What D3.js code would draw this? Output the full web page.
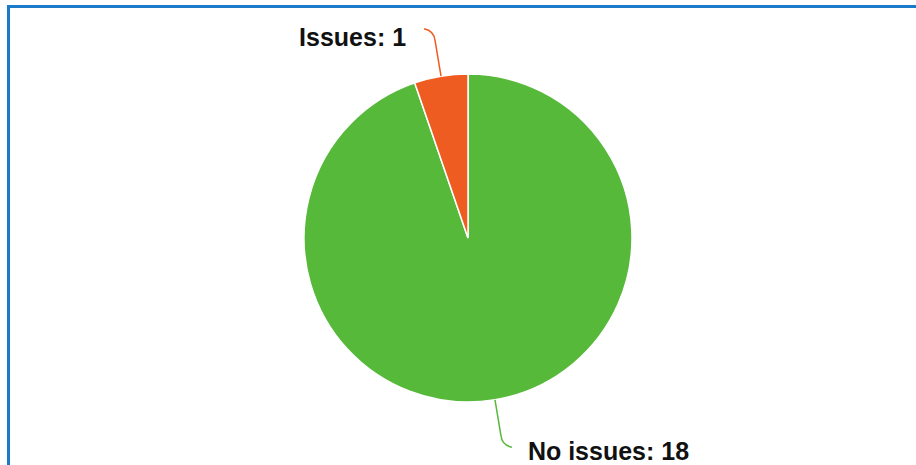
<!DOCTYPE html>
<html>
<head>
<meta charset="utf-8">
<script src="https://cdn.jsdelivr.net/npm/d3@7"></script>
<style>
  html, body { margin: 0; padding: 0; background: #fff; }
  svg { display: block; }
</style>
</head>
<body>
<div id="chart"></div>
<script>
// data
var labels = ["No issues", "Issues"];
var counts = [18, 1];
var colors = ["#57b93a", "#ef5c22"];

var width = 916, height = 465;
var cx = 468, cy = 238, radius = 164;

var svg = d3.select("#chart").append("svg")
    .attr("width", width)
    .attr("height", height);

// blue frame (runs off the right and bottom)
svg.append("rect")
    .attr("x", 8.5).attr("y", 6.5)
    .attr("width", width + 20).attr("height", height + 20)
    .attr("fill", "none")
    .attr("stroke", "#1b7bc8")
    .attr("stroke-width", 3);

var pie = d3.pie().sort(null).value(function (d) { return d; });
var arcs = pie(counts);
var arc = d3.arc().innerRadius(0).outerRadius(radius);

var g = svg.append("g").attr("transform", "translate(" + cx + "," + cy + ")");

g.selectAll("path.slice")
    .data(arcs)
    .enter()
    .append("path")
    .attr("class", "slice")
    .attr("d", arc)
    .attr("fill", function (d, i) { return colors[i]; })
    .attr("stroke", "#fff")
    .attr("stroke-width", 1.5);

// connector lines + labels
function pt(a, r) { return [Math.sin(a) * r, -Math.cos(a) * r]; }

arcs.forEach(function (d, i) {
  var mid = (d.startAngle + d.endAngle) / 2;
  var p0 = pt(mid, radius);
  var p1 = pt(mid, radius + 36);
  var top = Math.cos(mid) > 0;
  var right = Math.sin(mid) > 0;
  var dx = right ? 1 : -1;
  var dy = top ? -1 : 1;
  var end = [p1[0] + dx * 11, p1[1] + dy * 12];
  var path = "M" + p0 + "L" + p1 + "Q" + [p1[0] + dx * 1, p1[1] + dy * 10] + " " + end;
  g.append("path")
      .attr("d", path)
      .attr("fill", "none")
      .attr("stroke", colors[i])
      .attr("stroke-width", 1.5);

  g.append("text")
      .attr("x", end[0] + dx * (right ? 16 : 18))
      .attr("y", end[1] + (top ? 17 : 13))
      .attr("text-anchor", right ? "start" : "end")
      .attr("font-family", "Liberation Sans, Arial, sans-serif")
      .attr("font-weight", "bold")
      .attr("font-size", 25)
      .attr("fill", "#111")
      .text(labels[i] + ": " + counts[i]);
});
</script>
</body>
</html>
